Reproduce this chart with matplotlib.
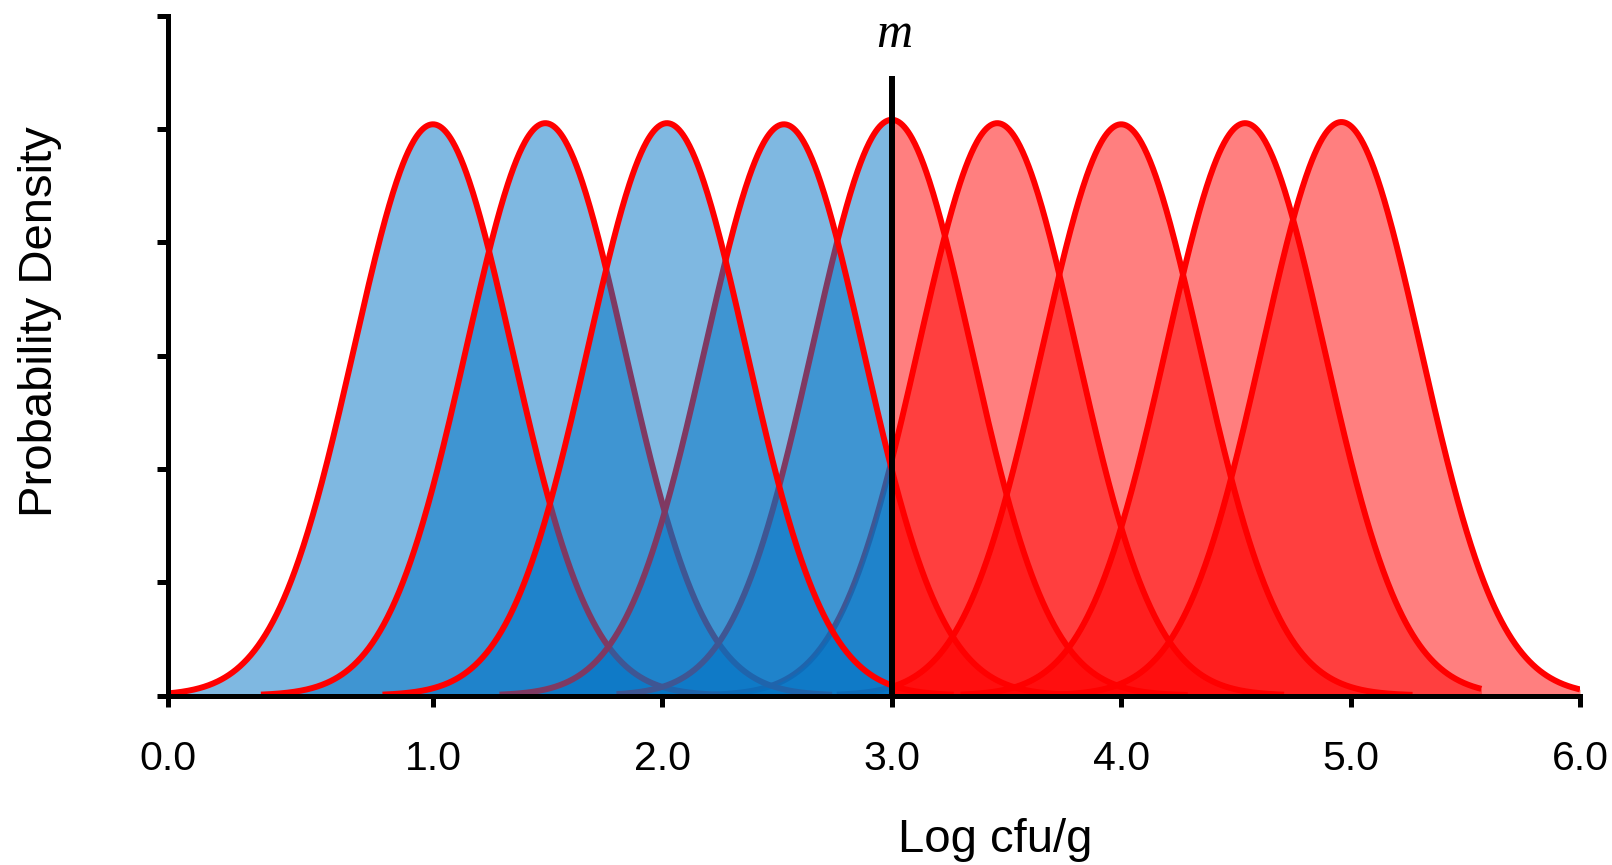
import numpy as np
import matplotlib
matplotlib.use("Agg")
import matplotlib.pyplot as plt

# ---- data ----
means = [1.0, 1.49, 2.02, 2.53, 3.0, 3.46, 4.0, 4.54, 4.96]
peaks = [5.04, 5.05, 5.05, 5.04, 5.08, 5.05, 5.04, 5.05, 5.06]
sd = 0.345
lo = [-0.155, 0.25, 0.78, 1.29, 1.80, 2.22, 2.76, 3.30, 3.72]
hi = [2.25, 2.74, 3.27, 3.77, 4.29, 4.71, 5.27, 5.57, 6.0]
m_value = 3.0
xtick_pos = [-0.155, 1.0, 2.0, 3.0, 4.0, 5.0, 6.0]
xtick_labels = ["0.0", "1.0", "2.0", "3.0", "4.0", "5.0", "6.0"]
ytick_pos = [0, 1, 2, 3, 4, 5, 6]

# ---- style ----
blue = "#0073C5"
red = "#FF0000"
fill_z = [2, 2, 8, 6, 4, 2, 2, 2, 2]
line_z = [3, 3, 9, 7, 5, 1, 1, 1, 1]

W, H = 1612, 865
fig = plt.figure(figsize=(W / 100, H / 100), dpi=100)
left, right, bottom, top = 168, 1580, 695.5, 15.5
ax = fig.add_axes([left / W, 1 - bottom / H, (right - left) / W, (bottom - top) / H])

for i in range(len(means)):
    x = np.linspace(lo[i], hi[i], 600)
    if lo[i] < m_value < hi[i]:
        x = np.sort(np.append(x, m_value))
    y = peaks[i] * np.exp(-0.5 * ((x - means[i]) / sd) ** 2)
    ax.fill_between(x, 0, y, where=x <= m_value, color=blue, alpha=0.5,
                    lw=0, zorder=fill_z[i])
    ax.fill_between(x, 0, y, where=x >= m_value, color=red, alpha=0.5,
                    lw=0, zorder=fill_z[i])
    ax.plot(x, y, color=red, lw=4.3, zorder=line_z[i], solid_capstyle="butt",
            solid_joinstyle="round")

# m line and label
ax.vlines(m_value, 0, 5.47, color="black", lw=4.3, zorder=20)
ax.text(m_value + 0.01, 5.83, "m", fontsize=36, style="italic",
        family=["Liberation Serif", "DejaVu Serif"], ha="center", va="center")

ax.set_xlim(xtick_pos[0], 6.0)
ax.set_ylim(0, 6)
ax.set_xticks(xtick_pos)
ax.set_xticklabels(xtick_labels, fontsize=29.5, family=["Liberation Sans", "DejaVu Sans"])
ax.set_yticks(ytick_pos)
ax.set_yticklabels([])
for s in ["top", "right"]:
    ax.spines[s].set_visible(False)
for s in ["left", "bottom"]:
    ax.spines[s].set_linewidth(3.6)
    ax.spines[s].set_zorder(25)
ax.spines["left"].set_bounds(0, 6)
ax.tick_params(axis="x", direction="out", length=8, width=3.6, pad=24)
ax.tick_params(axis="y", direction="out", length=8, width=3.6)
ax.set_facecolor("none")

fig.text(40 / W, 1 - 322 / H, "Probability Density", rotation=90, fontsize=34,
         family=["Liberation Sans", "DejaVu Sans"], ha="center", va="center")
fig.text(995 / W, 1 - 852 / H, "Log cfu/g", fontsize=34,
         family=["Liberation Sans", "DejaVu Sans"], ha="center", va="baseline")

fig.savefig("out.png", dpi=100)
